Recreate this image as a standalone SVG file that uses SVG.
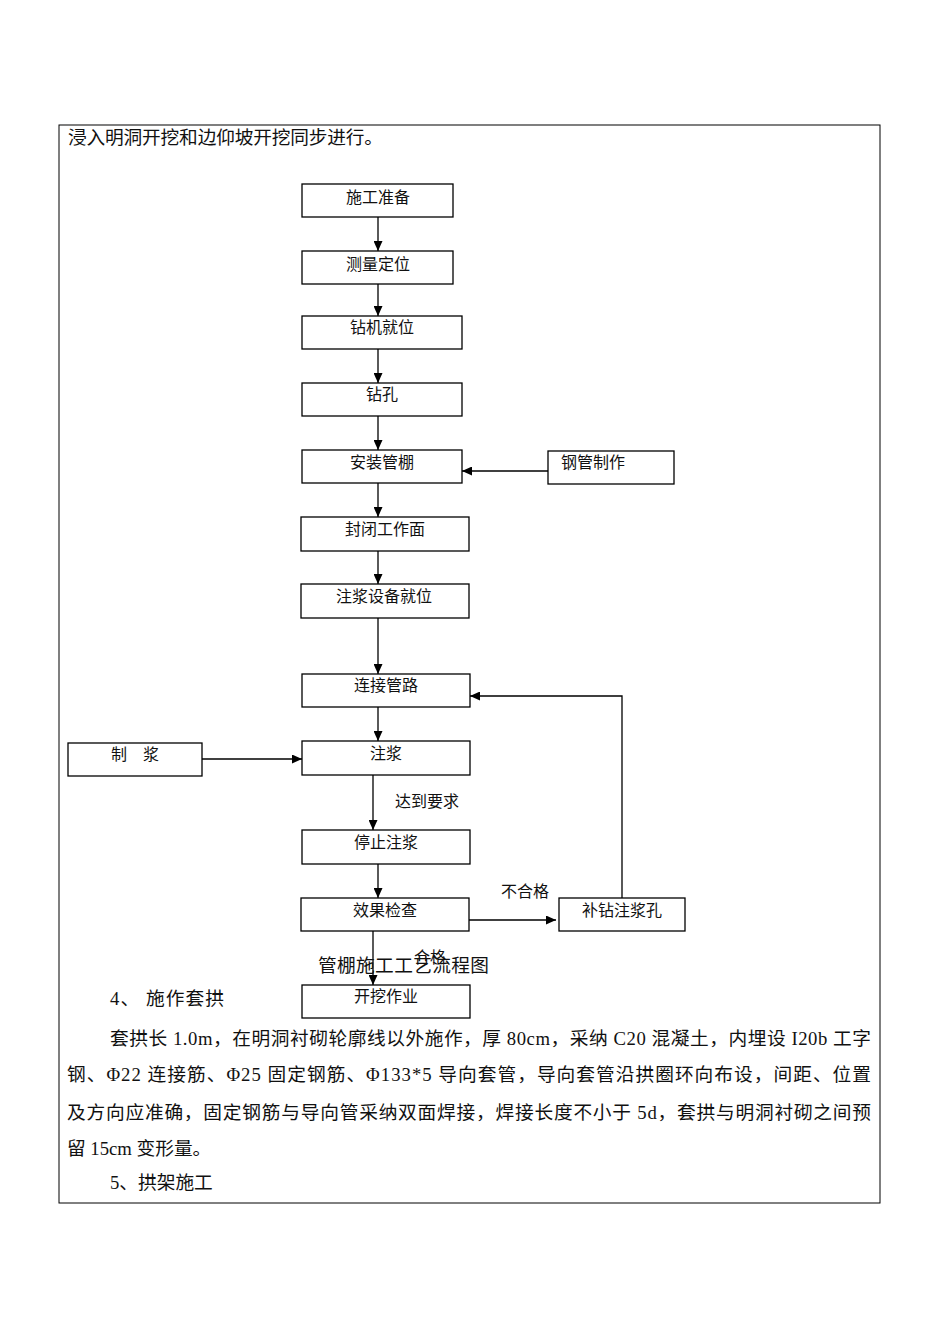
<svg xmlns="http://www.w3.org/2000/svg" width="950" height="1344" viewBox="0 0 950 1344">
<style>
.box{fill:#fff;stroke:#000;stroke-width:1.3}
.t{font-family:'Liberation Serif','Noto Sans CJK SC',serif;font-size:16px;fill:#111}
.tc{text-anchor:middle}
.body{font-family:'Liberation Serif','Noto Sans CJK SC',serif;font-size:18.7px;fill:#111}
.ln{fill:none;stroke:#000;stroke-width:1.3}
</style>
<defs>
<marker id="arr" markerUnits="userSpaceOnUse" markerWidth="10" markerHeight="9" refX="10" refY="4.5" orient="auto">
<path d="M0,0 L10,4.5 L0,9 z" fill="#000"/>
</marker>
</defs>
<rect width="950" height="1344" fill="#fff"/>
<rect x="59" y="125" width="821" height="1078" fill="none" stroke="#000" stroke-width="1"/>
<text class="body" x="68" y="144" textLength="315" lengthAdjust="spacing">浸入明洞开挖和边仰坡开挖同步进行。</text>

<g id="connectors">
<line class="ln" x1="378" y1="217" x2="378" y2="251" marker-end="url(#arr)"/>
<line class="ln" x1="378" y1="284" x2="378" y2="316" marker-end="url(#arr)"/>
<line class="ln" x1="378" y1="349" x2="378" y2="383" marker-end="url(#arr)"/>
<line class="ln" x1="378" y1="416" x2="378" y2="450" marker-end="url(#arr)"/>
<line class="ln" x1="548" y1="471" x2="462" y2="471" marker-end="url(#arr)"/>
<line class="ln" x1="378" y1="483" x2="378" y2="517" marker-end="url(#arr)"/>
<line class="ln" x1="378" y1="551" x2="378" y2="584" marker-end="url(#arr)"/>
<line class="ln" x1="378" y1="618" x2="378" y2="674" marker-end="url(#arr)"/>
<line class="ln" x1="378" y1="707" x2="378" y2="741" marker-end="url(#arr)"/>
<line class="ln" x1="202" y1="759" x2="302" y2="759" marker-end="url(#arr)"/>
<line class="ln" x1="373" y1="775" x2="373" y2="830" marker-end="url(#arr)"/>
<line class="ln" x1="378" y1="864" x2="378" y2="898" marker-end="url(#arr)"/>
<line class="ln" x1="469" y1="920" x2="556" y2="920" marker-end="url(#arr)"/>
<line class="ln" x1="373" y1="931" x2="373" y2="985" marker-end="url(#arr)"/>
<polyline class="ln" points="622,898 622,696 470,696" marker-end="url(#arr)"/>
<text class="t" x="395" y="807">达到要求</text>
<text class="t" x="501" y="897">不合格</text>
<text class="t" x="414" y="963">合格</text>
</g>

<g id="n1"><rect class="box" x="302" y="184" width="151" height="33"/><text class="t tc" x="378" y="203">施工准备</text></g>
<g id="n2"><rect class="box" x="302" y="251" width="151" height="33"/><text class="t tc" x="378" y="270">测量定位</text></g>
<g id="n3"><rect class="box" x="302" y="316" width="160" height="33"/><text class="t tc" x="382" y="333">钻机就位</text></g>
<g id="n4"><rect class="box" x="302" y="383" width="160" height="33"/><text class="t tc" x="382" y="400">钻孔</text></g>
<g id="n5"><rect class="box" x="302" y="450" width="160" height="33"/><text class="t tc" x="382" y="468">安装管棚</text></g>
<g id="n6"><rect class="box" x="548" y="451" width="126" height="33"/><text class="t" x="561" y="468">钢管制作</text></g>
<g id="n7"><rect class="box" x="301" y="517" width="168" height="34"/><text class="t tc" x="385" y="535">封闭工作面</text></g>
<g id="n8"><rect class="box" x="301" y="584" width="168" height="34"/><text class="t tc" x="384" y="602">注浆设备就位</text></g>
<g id="n9"><rect class="box" x="302" y="674" width="168" height="33"/><text class="t tc" x="386" y="691">连接管路</text></g>
<g id="n10"><rect class="box" x="68" y="743" width="134" height="33"/><text class="t tc" x="135" y="760">制　浆</text></g>
<g id="n11"><rect class="box" x="302" y="741" width="168" height="34"/><text class="t tc" x="386" y="759">注浆</text></g>
<g id="n12"><rect class="box" x="302" y="830" width="168" height="34"/><text class="t tc" x="386" y="848">停止注浆</text></g>
<g id="n13"><rect class="box" x="301" y="898" width="168" height="33"/><text class="t tc" x="385" y="916">效果检查</text></g>
<g id="n14"><rect class="box" x="559" y="898" width="126" height="33"/><text class="t tc" x="622" y="916">补钻注浆孔</text></g>
<g id="n15"><rect class="box" x="302" y="985" width="168" height="33"/><text class="t tc" x="386" y="1002">开挖作业</text></g>

<text class="body" x="318" y="972" textLength="171" lengthAdjust="spacing">管棚施工工艺流程图</text>
<text class="body" x="110" y="1005" textLength="114" lengthAdjust="spacing">4、 施作套拱</text>
<text class="body" x="110" y="1045" textLength="761" lengthAdjust="spacing">套拱长 1.0m，在明洞衬砌轮廓线以外施作，厚 80cm，采纳 C20 混凝土，内埋设 I20b 工字</text>
<text class="body" x="67" y="1081" textLength="804" lengthAdjust="spacing">钢、Φ22 连接筋、Φ25 固定钢筋、Φ133*5 导向套管，导向套管沿拱圈环向布设，间距、位置</text>
<text class="body" x="67" y="1119" textLength="804" lengthAdjust="spacing">及方向应准确，固定钢筋与导向管采纳双面焊接，焊接长度不小于 5d，套拱与明洞衬砌之间预</text>
<text class="body" x="67" y="1155">留 15cm 变形量。</text>
<text class="body" x="110" y="1189">5、拱架施工</text>
</svg>
